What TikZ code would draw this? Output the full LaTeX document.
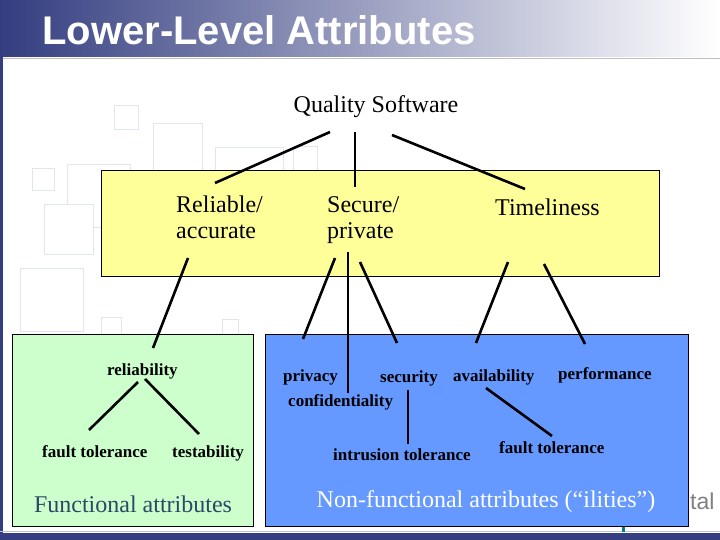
\documentclass[tikz,border=0pt]{standalone}
\usepackage{fontspec}
\setmainfont{Liberation Serif}
\newfontfamily\headfont{Liberation Sans}
\usetikzlibrary{calc}
\definecolor{navy}{RGB}{52,62,128}
\definecolor{paleyellow}{RGB}{255,255,153}
\definecolor{palegreen}{RGB}{204,255,204}
\definecolor{ilityblue}{RGB}{102,153,255}
\definecolor{slate}{RGB}{45,72,102}
\definecolor{faint}{RGB}{224,230,238}

\begin{document}
\begin{tikzpicture}[x=1pt, y=-1pt,
  link/.style={line width=2.6pt},
  area/.style={draw=black, line width=0.8pt},
  big/.style={font=\fontsize{24}{27}\selectfont, inner sep=0pt},
  small/.style={font=\fontsize{17}{19}\selectfont\bfseries, inner sep=0pt, anchor=base west},
  caption/.style={font=\fontsize{24}{27}\selectfont, inner sep=0pt, anchor=base}]
\useasboundingbox (0,0) rectangle (720,540);
\fill[white] (0,0) rectangle (720,540);
% faint squares of the slide background
\foreach \x/\y/\w in {114/106/24, 153/124/49, 215/148/68, 293/147/24, 32/169/22, 67/165/63, 44/205/49, 20/268/63, 101/317/20, 222/319/16}
  \draw[faint, fill=white, line width=1pt] (\x,\y) rectangle ++(\w,\w);
% title bar and frame
\shade[left color=navy, right color=white] (0,0) rectangle (720,57);
\draw[gray!50] (0,58)--(720,58);
\fill[navy] (0,57) rectangle (3,533);
\fill[navy] (0,533) rectangle (720,540);
\draw[navy!30] (0,531)--(720,531);
\node[anchor=base west, inner sep=0pt, text=white, font=\headfont\bfseries\fontsize{40}{42}\selectfont] (title) at (42,45) {Lower-Level Attributes};
\node[anchor=base west, inner sep=0pt, text=gray, font=\headfont\fontsize{23}{24}\selectfont] (tal) at (690,509) {tal};
\fill[teal] (622,527) rectangle (625,532);

% attribute areas
\draw[area, fill=paleyellow] (101,170) rectangle (659,276);
\draw[area, fill=palegreen] (12,334) rectangle (253,526);
\draw[area, fill=ilityblue] (265,334) rectangle (688,526);

\node[big, anchor=base] (qs) at (376,113) {Quality Software};
\node[big, anchor=base west, align=left] (rel) at (176,239) {Reliable/\\accurate};
\node[big, anchor=base west, align=left] (sec) at (327,239) {Secure/\\private};
\node[big, anchor=base west] (tim) at (495,215) {Timeliness};

\node[small] (rlb) at (107,375) {reliability};
\node[small] (ft1) at (42,457) {fault tolerance};
\node[small] (tst) at (172,457) {testability};
\node[small] (prv) at (283,381) {privacy};
\node[small] (conf) at (288,406) {confidentiality};
\node[small] (scty) at (380,382) {security};
\node[small] (avl) at (453,381) {availability};
\node[small] (perf) at (558,379) {performance};
\node[small] (intr) at (333,460) {intrusion tolerance};
\node[small] (ft2) at (499,453) {fault tolerance};

\node[caption, text=slate] (func) at (133,512) {Functional attributes};
\node[caption, text=white] (nonfunc) at (486,507) {Non-functional attributes (“ilities”)};

% links
\draw[link] ($(qs.base)+(-46,19)$) -- ($(rel.base west)+(39,-56)$);
\draw[link] ($(qs.base)+(-21,19)$) -- ($(sec.base west)+(28,-52)$);
\draw[link] ($(qs.base)+(16,22)$) -- ($(tim.base west)+(30,-26)$);
\draw[link] ($(rel.base west)+(12,19)$) -- ($(rlb.base west)+(46,-27)$);
\draw[link] ($(sec.base west)+(8,19)$) -- ($(prv.base west)+(20,-42)$);
\draw[link] ($(sec.base west)+(21,13)$) -- ($(conf.base west)+(60,-13)$);
\draw[link] ($(sec.base west)+(33,23)$) -- ($(scty.base west)+(17,-39)$);
\draw[link] ($(tim.base west)+(13,47)$) -- ($(avl.base west)+(23,-38)$);
\draw[link] ($(tim.base west)+(49,49)$) -- ($(perf.base west)+(27,-35)$);
\draw[link] ($(rlb.base west)+(31,7)$) -- ($(ft1.base west)+(47,-27)$);
\draw[link] ($(rlb.base west)+(38,4)$) -- ($(tst.base west)+(27,-23)$);
\draw[link] ($(scty.base west)+(28,8)$) -- ($(intr.base west)+(75,-16)$);
\draw[link] ($(avl.base west)+(33,7)$) -- ($(ft2.base west)+(53,-17)$);
\end{tikzpicture}
\end{document}
